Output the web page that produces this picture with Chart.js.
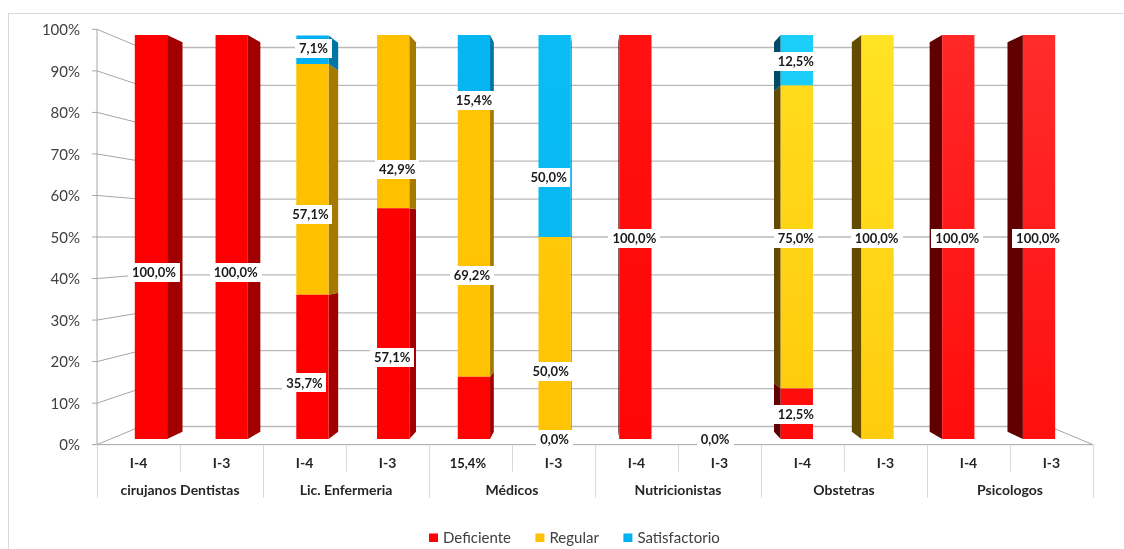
<!DOCTYPE html>
<html>
<head>
<meta charset="utf-8">
<script src="https://cdn.jsdelivr.net/npm/chart.js@4.4.1/dist/chart.umd.min.js"></script>
<style>
  html, body { margin: 0; padding: 0; background: #ffffff; }
  #wrap { position: relative; width: 1124px; height: 549px; }
</style>
</head>
<body>
<div id="wrap"><canvas id="chart"></canvas></div>
<script>
// ---- data -------------------------------------------------------------
const groups = ['cirujanos Dentistas', 'Lic. Enfermeria', 'Médicos', 'Nutricionistas', 'Obstetras', 'Psicologos'];
const categories = ['I-4', 'I-3', 'I-4', 'I-3', 'I-4', 'I-3', 'I-4', 'I-3', 'I-4', 'I-3', 'I-4', 'I-3'];
const deficiente    = [100, 100, 35.7, 57.1, 15.4, 0,  100, 0, 12.5, 0,   100, 100];
const regular       = [0,   0,   57.1, 42.9, 69.2, 50, 0,   0, 75,   100, 0,   0];
const satisfactorio = [0,   0,   7.1,  0,    15.4, 50, 0,   0, 12.5, 0,   0,   0];
const seriesNames = ['Deficiente', 'Regular', 'Satisfactorio'];
const yTicks = [0, 10, 20, 30, 40, 50, 60, 70, 80, 90, 100];
// zero values that still carry a "0,0%" label ("dataset:index")
const zeroLabels = ['0:5', '0:7'];

// ---- look -------------------------------------------------------------
const FONT = 'Lato, "Liberation Sans", sans-serif';
const BASE  = [[255, 0, 0], [255, 192, 0], [0, 176, 240]];
const LIGHT = [[255, 44, 44], [255, 238, 48], [45, 226, 255]];
const SIDE_R = ['#a20000', '#a47a00', '#0076a6'];   // right-hand faces
const SIDE_L = ['#600000', '#634a00', '#004c68'];   // left-hand faces
const VIEW = { front: 1.028, back: 0.938, depth: 0.964 };

const rgb = c => `rgb(${c.map(v => Math.round(v)).join(',')})`;
const mix = (a, b, t) => a.map((v, k) => v + (b[k] - v) * t);
const fmt = v => v.toFixed(1).replace('.', ',') + '%';

function faceColor(ctx, d) {
  const chart = ctx.chart, ca = chart.chartArea;
  const t = Math.max(0, Math.min(1, (ctx.dataIndex - 3) / 8));
  if (!ca || t === 0) return rgb(BASE[d]);
  const g = chart.ctx.createLinearGradient(0, ca.top, 0, ca.bottom);
  g.addColorStop(0, rgb(mix(BASE[d], LIGHT[d], t)));
  g.addColorStop(1, rgb(mix(BASE[d], LIGHT[d], t * 0.35)));
  return g;
}

// perspective helper: s = 1 is the plane of the bar fronts
function proj(ca, x, y, s) {
  const vx = (ca.left + ca.right) / 2, vy = (ca.top + ca.bottom) / 2;
  return [vx + s * (x - vx), vy + s * (y - vy)];
}

// label nudges (px) for data labels, keyed "dataset:index"
const labelNudge = {
  '0:0': [3, 35], '0:1': [4, 35],
  '2:2': [1, -1], '1:2': [-2, 35], '0:2': [-8, 16],
  '1:3': [4, 48], '0:3': [-1, 34],
  '2:4': [0, 34], '1:4': [-2, 38], '0:4': [-6, 55],
  '2:5': [-6, 41], '1:5': [-4, 33], '0:5': [0, 0.5],
  '0:7': [-1, 0.5]
};

const frame3d = {
  id: 'frame3d',
  beforeDatasetsDraw(chart) {
    const { ctx, chartArea: ca, scales: { x, y } } = chart;
    const F = VIEW.front, B = VIEW.back;
    ctx.save();

    // outer border
    ctx.strokeStyle = '#d9d9d9';
    ctx.lineWidth = 1;
    ctx.strokeRect(8.5, 13.5, 1130, 560);

    // back wall grid
    ctx.strokeStyle = '#bababa';
    ctx.lineWidth = 1.3;
    yTicks.forEach(v => {
      const py = y.getPixelForValue(v);
      const a = proj(ca, ca.left, py, B), b = proj(ca, ca.right, py, B);
      ctx.beginPath(); ctx.moveTo(a[0], a[1]); ctx.lineTo(b[0], b[1]); ctx.stroke();
    });

    // left wall diagonals + front axis ticks
    ctx.strokeStyle = '#a6a6a6';
    ctx.lineWidth = 1;
    yTicks.forEach(v => {
      const py = y.getPixelForValue(v);
      const f = proj(ca, ca.left, py, F), b = proj(ca, ca.left, py, B);
      ctx.beginPath(); ctx.moveTo(f[0] - 5, f[1]); ctx.lineTo(f[0], f[1]); ctx.lineTo(b[0], b[1]); ctx.stroke();
    });
    const ft = proj(ca, ca.left, ca.top, F), fb = proj(ca, ca.left, ca.bottom, F);
    ctx.beginPath(); ctx.moveTo(ft[0], ft[1]); ctx.lineTo(fb[0], fb[1]); ctx.stroke();

    // floor edges
    const fr = proj(ca, ca.right, ca.bottom, F), br = proj(ca, ca.right, ca.bottom, B);
    ctx.beginPath(); ctx.moveTo(fb[0], fb[1]); ctx.lineTo(fr[0], fr[1]); ctx.lineTo(br[0], br[1]); ctx.stroke();

    // y tick labels
    ctx.fillStyle = '#404040';
    ctx.font = `15px ${FONT}`;
    ctx.textAlign = 'right';
    ctx.textBaseline = 'middle';
    yTicks.forEach(v => {
      const p = proj(ca, ca.left, y.getPixelForValue(v), F);
      ctx.fillText(v + '%', p[0] - 17, p[1] + 1);
    });

    // category rows on the front plane
    const floorY = fb[1];
    const half = (x.getPixelForValue(1) - x.getPixelForValue(0)) / 2;
    ctx.strokeStyle = '#d9d9d9';
    for (let i = 0; i <= categories.length; i++) {
      const edge = (i < categories.length ? x.getPixelForValue(i) - half : x.getPixelForValue(i - 1) + half);
      const px = proj(ca, edge, ca.bottom, F)[0];
      const len = i % 2 === 0 ? 53 : 27;
      ctx.beginPath(); ctx.moveTo(Math.round(px) + 0.5, floorY); ctx.lineTo(Math.round(px) + 0.5, floorY + len); ctx.stroke();
    }
    ctx.fillStyle = '#262626';
    ctx.font = `bold 14px ${FONT}`;
    ctx.textAlign = 'center';
    categories.forEach((c, i) => {
      const px = proj(ca, x.getPixelForValue(i), ca.bottom, F)[0];
      ctx.fillText(c, px, floorY + 19);
    });
    groups.forEach((g, k) => {
      const px = proj(ca, (x.getPixelForValue(2 * k) + x.getPixelForValue(2 * k + 1)) / 2, ca.bottom, F)[0];
      ctx.fillText(g, px, floorY + 46);
    });

    // legend
    ctx.font = `15px ${FONT}`;
    ctx.textAlign = 'left';
    let lx = 429;
    chart.data.datasets.forEach((ds, d) => {
      ctx.fillStyle = rgb(BASE[d]);
      ctx.fillRect(lx, 533.5, 9, 8.5);
      ctx.fillStyle = '#404040';
      ctx.fillText(ds.label, lx + 14, 538);
      lx += 14 + ctx.measureText(ds.label).width + 24.5;
    });

    // side faces of the bars
    const vx = (ca.left + ca.right) / 2;
    const K = VIEW.depth;
    chart.data.datasets.forEach((ds, d) => {
      chart.getDatasetMeta(d).data.forEach((el, i) => {
        if (Math.abs(el.base - el.y) < 0.5) return;
        const w = el.width / 2;
        let edge, color;
        if (el.x + w < vx) { edge = el.x + w; color = SIDE_R[d]; }
        else if (el.x - w > vx) { edge = el.x - w; color = SIDE_L[d]; }
        else return;
        const t1 = proj(ca, edge, el.y, K), b1 = proj(ca, edge, el.base, K);
        ctx.fillStyle = color;
        ctx.beginPath();
        ctx.moveTo(edge, el.y); ctx.lineTo(t1[0], t1[1]); ctx.lineTo(b1[0], b1[1]); ctx.lineTo(edge, el.base);
        ctx.closePath(); ctx.fill();
      });
    });
    ctx.restore();
  },
  afterDatasetsDraw(chart) {
    const { ctx } = chart;
    ctx.save();
    ctx.font = `bold 13px ${FONT}`;
    ctx.textAlign = 'center';
    ctx.textBaseline = 'middle';
    chart.data.datasets.forEach((ds, d) => {
      chart.getDatasetMeta(d).data.forEach((el, i) => {
        const v = ds.data[i];
        const key = d + ':' + i;
        if (!(v > 0) && !zeroLabels.includes(key)) return;
        const n = labelNudge[key] || [-1, 1];
        const cx = el.x + n[0], cy = (el.y + el.base) / 2 + n[1];
        const txt = fmt(v);
        const tw = ctx.measureText(txt).width;
        ctx.fillStyle = '#ffffff';
        ctx.fillRect(Math.round(cx - tw / 2 - 4), Math.round(cy - 9.5), Math.round(tw + 8), 19);
        ctx.fillStyle = '#1a1a1a';
        ctx.fillText(txt, cx, cy + 0.5);
      });
    });
    ctx.restore();
  }
};

const series = [deficiente, regular, satisfactorio];
new Chart(document.getElementById('chart'), {
  type: 'bar',
  data: {
    labels: categories,
    datasets: series.map((vals, d) => ({
      label: seriesNames[d],
      data: vals,
      backgroundColor: c => faceColor(c, d),
      borderWidth: 0,
      categoryPercentage: 1,
      barPercentage: 0.4
    }))
  },
  options: {
    responsive: true,
    maintainAspectRatio: false,
    animation: false,
    layout: { padding: { left: 110.6, right: 44.6, top: 35, bottom: 110 } },
    scales: {
      x: { stacked: true, display: false },
      y: { stacked: true, display: false, min: 0, max: 100 }
    },
    plugins: { legend: { display: false }, tooltip: { enabled: false } }
  },
  plugins: [frame3d]
});
</script>
</body>
</html>
